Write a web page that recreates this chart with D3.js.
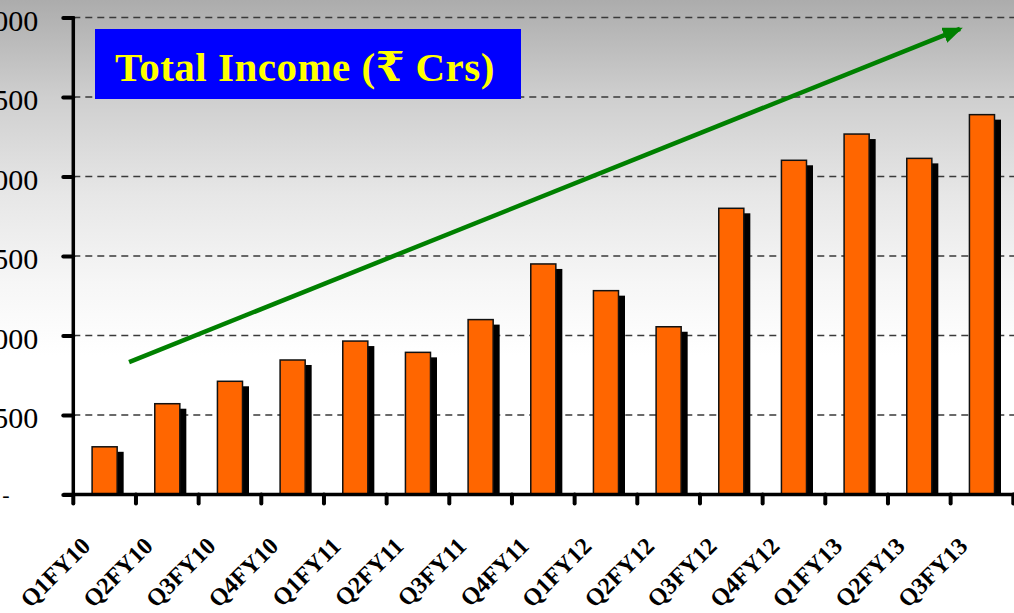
<!DOCTYPE html>
<html>
<head>
<meta charset="utf-8">
<script src="https://cdn.jsdelivr.net/npm/d3@7/dist/d3.min.js"></script>
<style>
  html, body { margin: 0; padding: 0; background: #fff; }
  svg { display: block; }
</style>
</head>
<body>
<svg id="chart" width="1014" height="613"></svg>
<script>
// ---- data ----
const categories = ["Q1FY10","Q2FY10","Q3FY10","Q4FY10","Q1FY11","Q2FY11","Q3FY11","Q4FY11",
                    "Q1FY12","Q2FY12","Q3FY12","Q4FY12","Q1FY13","Q2FY13","Q3FY13"];
const totalIncome = [300, 571, 712, 846, 965, 894, 1100, 1450, 1282, 1055, 1800, 2102, 2267, 2114, 2389];
const yTicks = [0, 500, 1000, 1500, 2000, 2500, 3000];
const titleText = "Total Income (\u20B9 Crs)";
// trend arrow, in (category index, value) units
const trendArrow = [[0.89, 833], [14.15, 2928]];

// ---- layout ----
const W = 1014, H = 613;
const plot = { left: 73.3, right: 1013.3, top: 17.5, bottom: 494.5 };

const svg = d3.select("#chart");
const defs = svg.append("defs");

const bg = defs.append("linearGradient").attr("id", "bg")
  .attr("x1", 0).attr("y1", 0).attr("x2", 0).attr("y2", 1);
bg.append("stop").attr("offset", "0%").attr("stop-color", "#acacac");
bg.append("stop").attr("offset", "16%").attr("stop-color", "#cfcfcf");
bg.append("stop").attr("offset", "32%").attr("stop-color", "#e7e7e7");
bg.append("stop").attr("offset", "46%").attr("stop-color", "#f6f6f6");
bg.append("stop").attr("offset", "58%").attr("stop-color", "#ffffff");
bg.append("stop").attr("offset", "100%").attr("stop-color", "#ffffff");
svg.append("rect").attr("width", W).attr("height", H).attr("fill", "url(#bg)");

defs.append("marker").attr("id", "arrowhead")
  .attr("viewBox", "0 0 20 16").attr("refX", 17).attr("refY", 8)
  .attr("markerWidth", 20).attr("markerHeight", 16)
  .attr("markerUnits", "userSpaceOnUse").attr("orient", "auto")
  .append("path").attr("d", "M0,0 L20,8 L0,16 Z").attr("fill", "#008000");

const x = d3.scaleBand().domain(categories).range([plot.left, plot.right]).padding(0);
const xi = d3.scaleLinear().domain([0, categories.length]).range([plot.left, plot.right]);
const y = d3.scaleLinear().domain([0, 3000]).range([plot.bottom, plot.top]);

// gridlines
svg.append("g").selectAll("line").data(yTicks.filter(d => d > 0)).join("line")
  .attr("x1", plot.left).attr("x2", W)
  .attr("y1", d => y(d)).attr("y2", d => y(d))
  .attr("stroke", "#3a3a3a").attr("stroke-width", 1.4)
  .attr("stroke-dasharray", "7,5");

// bars
const barW = x.bandwidth() * 0.4;
const shadowDx = 6.5, shadowDy = 5;
const bars = svg.append("g");
bars.selectAll("rect.shadow").data(totalIncome).join("rect").attr("class", "shadow")
  .attr("x", (d, i) => x(categories[i]) + (x.bandwidth() - barW) / 2 + shadowDx)
  .attr("y", d => y(d) + shadowDy)
  .attr("width", barW)
  .attr("height", d => y(0) - y(d) - shadowDy)
  .attr("fill", "#000");
bars.selectAll("rect.bar").data(totalIncome).join("rect").attr("class", "bar")
  .attr("x", (d, i) => x(categories[i]) + (x.bandwidth() - barW) / 2)
  .attr("y", d => y(d))
  .attr("width", barW)
  .attr("height", d => y(0) - y(d))
  .attr("fill", "#ff6600").attr("stroke", "#111").attr("stroke-width", 1.5);

// trend arrow
svg.append("line")
  .attr("x1", xi(trendArrow[0][0])).attr("y1", y(trendArrow[0][1]))
  .attr("x2", xi(trendArrow[1][0])).attr("y2", y(trendArrow[1][1]))
  .attr("stroke", "#008000").attr("stroke-width", 4.5)
  .attr("marker-end", "url(#arrowhead)");

// y axis
const yAxis = svg.append("g").attr("transform", `translate(${plot.left},0)`)
  .call(d3.axisLeft(y).tickValues(yTicks).tickSize(10).tickPadding(25)
    .tickFormat(d => d === 0 ? "-" : d3.format(",")(d)));
yAxis.select(".domain").attr("stroke", "#000").attr("stroke-width", 3.5).attr("d", `M0,${plot.top - 1}V${plot.bottom + 2}`);
yAxis.selectAll(".tick line").attr("stroke", "#000").attr("stroke-width", 4).attr("stroke-linecap", "round");
yAxis.selectAll(".tick text")
  .attr("font-family", "'Liberation Serif', 'DejaVu Serif', serif")
  .attr("font-size", 30).attr("fill", "#000").attr("dy", "0.42em");
yAxis.selectAll(".tick text").filter(d => d === 0)
  .attr("text-anchor", "start").attr("x", -71).attr("font-size", 22).attr("dy", "0.3em");

// x axis
const xAxis = svg.append("g").attr("transform", `translate(0,${plot.bottom})`);
xAxis.append("line").attr("x1", plot.left - 10).attr("x2", W)
  .attr("stroke", "#000").attr("stroke-width", 3.5);
xAxis.selectAll("line.tk").data(d3.range(categories.length + 1)).join("line").attr("class", "tk")
  .attr("x1", d => xi(d)).attr("x2", d => xi(d))
  .attr("y1", 0).attr("y2", 9)
  .attr("stroke", "#000").attr("stroke-width", 4).attr("stroke-linecap", "round");
xAxis.selectAll("text").data(categories).join("text")
  .attr("transform", d => `translate(${x(d) + x.bandwidth() / 2 - 13},${53}) rotate(-45)`)
  .attr("text-anchor", "end")
  .attr("font-family", "'Liberation Serif', 'DejaVu Serif', serif")
  .attr("font-weight", "bold").attr("font-size", 24).attr("fill", "#000")
  .text(d => d);

// title box
const tb = svg.append("g");
tb.append("rect").attr("x", 95).attr("y", 29).attr("width", 426).attr("height", 70).attr("fill", "#0000ff");
tb.append("text").attr("x", 305).attr("y", 81).attr("text-anchor", "middle")
  .attr("font-family", "'Liberation Serif', 'DejaVu Serif', serif")
  .attr("font-weight", "bold").attr("font-size", 41).attr("letter-spacing", 0.5).attr("fill", "#ffff00")
  .text(titleText);
</script>
</body>
</html>
